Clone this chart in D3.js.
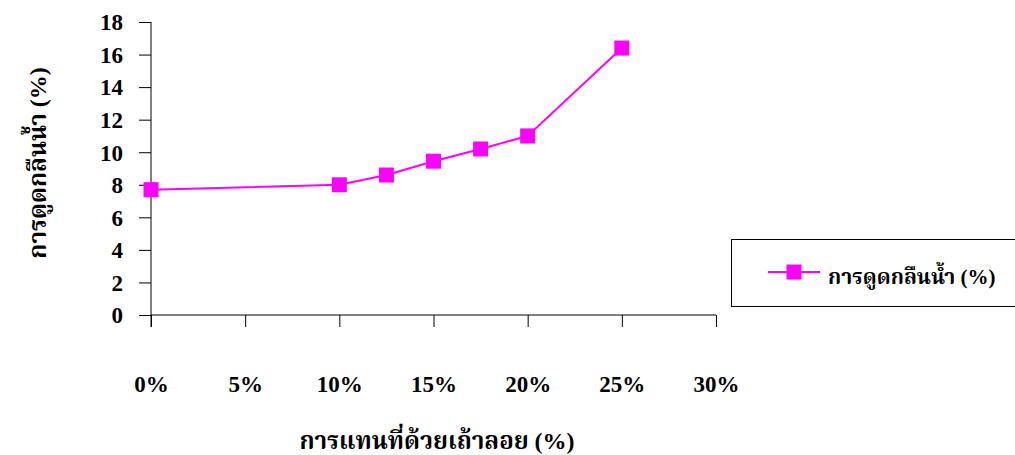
<!DOCTYPE html>
<html><head><meta charset="utf-8">
<script src="https://cdn.jsdelivr.net/npm/d3@7"></script>
<style>
body{margin:0;background:#fff;}
svg text{font-family:'Liberation Serif','Norasi','Noto Serif Thai','Noto Sans Thai Looped','Times New Roman',serif !important;font-weight:bold !important;}
.tick text{font-size:23px !important;}
</style></head>
<body><svg id="c" width="1015" height="455"></svg>
<script>
const replacement = [0, 0.10, 0.125, 0.15, 0.175, 0.20, 0.25];
const absorption = [7.7, 8.0, 8.6, 9.45, 10.2, 11.0, 16.4];
const xTicks = [0, 0.05, 0.10, 0.15, 0.20, 0.25, 0.30];
const yTicks = [0, 2, 4, 6, 8, 10, 12, 14, 16, 18];
const seriesName = ["การดูดกลืนน้ำ", " (%)"];
const xTitle = ["การแทนที่ด้วยเถ้าลอย", " (%)"];
const yTitle = ["การดูดกลืนน้ำ", " (%)"];

const svg = d3.select("#c");
const x = d3.scaleLinear().domain([0, 0.30]).range([151, 716]);
const y = d3.scaleLinear().domain([0, 18]).range([315, 22]);
const color = "#FF00FF";

// y axis
const ya = svg.append("g").attr("transform","translate(151,0)")
  .call(d3.axisLeft(y).tickValues(yTicks).tickSize(12).tickPadding(16).tickFormat(d3.format("d")));
ya.select(".domain").remove();
ya.selectAll(".tick line").attr("stroke","#000");
ya.selectAll(".tick text").attr("dy","0.34em").attr("fill","#000");
svg.append("line").attr("x1",151).attr("x2",151).attr("y1",y(18)).attr("y2",327).attr("stroke","#000");

// x axis
const xa = svg.append("g").attr("transform","translate(0,315)")
  .call(d3.axisBottom(x).tickValues(xTicks).tickSize(12).tickPadding(49).tickFormat(d3.format(".0%")));
xa.select(".domain").remove();
xa.selectAll(".tick line").attr("stroke","#000");
xa.selectAll(".tick text").attr("fill","#000");
svg.append("line").attr("x1",x(0)).attr("x2",x(0.30)).attr("y1",315).attr("y2",315).attr("stroke","#000");

// line
const line = d3.line().x((d,i)=>x(replacement[i])).y(d=>y(d));
svg.append("path").datum(absorption).attr("d",line).attr("fill","none").attr("stroke",color).attr("stroke-width",2);
svg.selectAll("rect.m").data(absorption).enter().append("rect").attr("class","m")
  .attr("x",(d,i)=>x(replacement[i])-7.5).attr("y",d=>y(d)-7.5).attr("width",15).attr("height",15).attr("fill",color);

function twoPart(t, parts){
  t.selectAll("tspan").data(parts).enter().append("tspan").text(d=>d);
  return t;
}
// titles
twoPart(svg.append("text").attr("x",437).attr("y",449).attr("text-anchor","middle").attr("font-size",24), xTitle);
twoPart(svg.append("text").attr("transform","translate(46,163) rotate(-90)").attr("text-anchor","middle").attr("font-size",24), yTitle);

// legend
svg.append("rect").attr("x",731.5).attr("y",239.5).attr("width",300).attr("height",67).attr("fill","none").attr("stroke","#000");
svg.append("line").attr("x1",768).attr("x2",820).attr("y1",272).attr("y2",272).attr("stroke",color).attr("stroke-width",2);
svg.append("rect").attr("x",794-7.5).attr("y",272-7.5).attr("width",15).attr("height",15).attr("fill",color);
twoPart(svg.append("text").attr("x",828).attr("y",284).attr("font-size",21), seriesName);
</script></body></html>
